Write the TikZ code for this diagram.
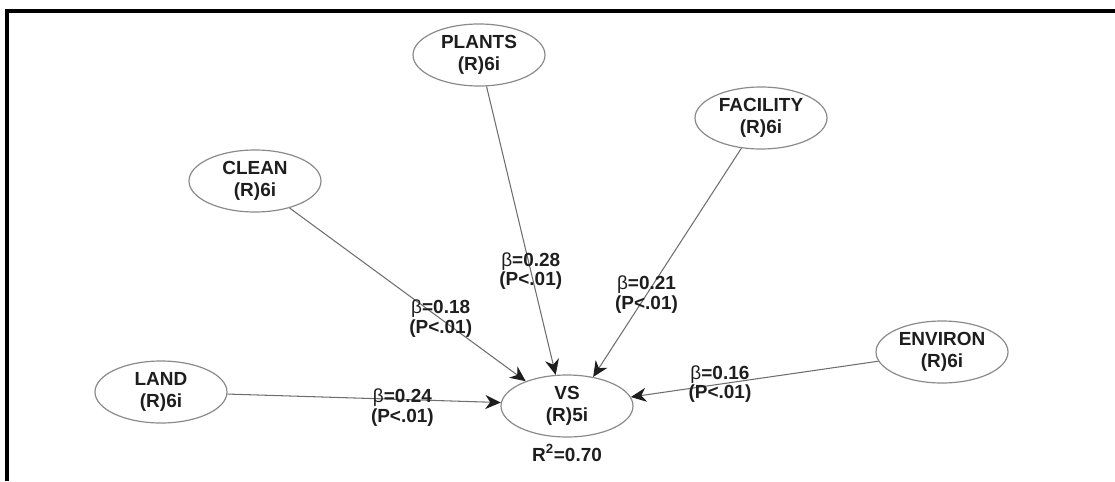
\documentclass[tikz,border=0pt]{standalone}
\usepackage{fontspec}
\setmainfont{Liberation Sans}
\definecolor{RimGray}{HTML}{8A8A8A}
\definecolor{PathGray}{HTML}{6E6E6E}
\definecolor{InkGray}{HTML}{1E1E1E}
\usepackage{tikz}
\usetikzlibrary{arrows.meta, positioning, shapes.geometric}

\begin{document}
\begin{tikzpicture}[>=Stealth, on grid,
    construct/.style={draw=RimGray, ellipse, line width=0.85pt,
        minimum width=3.3cm, minimum height=1.55cm, inner sep=0pt,
        align=center, text=InkGray,
        font=\fontsize{13.5}{16}\selectfont\bfseries},
    link/.style={draw=PathGray, line width=0.75pt,
        -{Stealth[length=11pt, width=10pt, inset=3.5pt, color=InkGray]}},
    coef/.style={pos=0.64, align=center, text=InkGray, inner sep=0pt,
        font=\fontsize{13.5}{14}\selectfont\bfseries}]
  \useasboundingbox (0,0) rectangle (27.875,12.025);
  \draw[line width=2.2pt] (0.175,0) |- (27.875,11.75);

  % endogenous construct
  \node[construct] (vs) at (14.175,1.875) {VS\\(R)5i};
  \node[below=1.175cm of vs, font=\fontsize{13.5}{14}\selectfont\bfseries,
        text=InkGray] (rsq) {R\textsuperscript{2}=0.70};

  % predictors
  \node[construct, above left=8.775cm and 2.2cm of vs] (plants) {PLANTS\\(R)6i};
  \node[construct, above right=7.2cm and 4.85cm of vs] (facility) {FACILITY\\(R)6i};
  \node[construct, above left=5.625cm and 7.8cm of vs] (clean) {CLEAN\\(R)6i};
  \node[construct, above left=0.35cm and 10.15cm of vs] (land) {LAND\\(R)6i};
  \node[construct, above right=1.35cm and 9.375cm of vs] (environ) {ENVIRON\\(R)6i};

  % paths
  \draw[link] (land) -- node[coef, yshift=-0.2cm] (bland)
    {{\mdseries β}=0.24\\(P<.01)} (vs.177);
  \draw[link] (clean.-38) -- node[coef] (bclean)
    {{\mdseries β}=0.18\\(P<.01)} (vs.149);
  \draw[link] (plants) -- node[coef] (bplants)
    {{\mdseries β}=0.28\\(P<.01)} (vs.110);
  \draw[link] (facility) -- node[coef] (bfacility)
    {{\mdseries β}=0.21\\(P<.01)} (vs.48);
  \draw[link] (environ) -- node[coef] (benviron)
    {{\mdseries β}=0.16\\(P<.01)} (vs.8);
\end{tikzpicture}
\end{document}
